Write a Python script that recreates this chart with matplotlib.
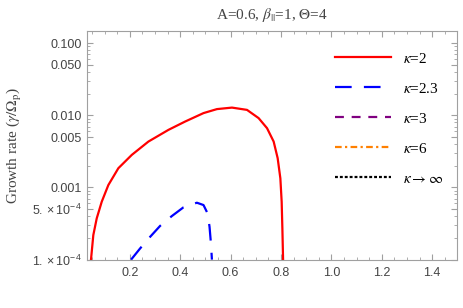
import numpy as np
import matplotlib.pyplot as plt
from matplotlib.ticker import FixedLocator, FixedFormatter, MultipleLocator

# growth rate curves (kappa = 2 and kappa = 2.3)
k2_x = [0.0457, 0.0549, 0.0684, 0.0883, 0.1145, 0.1543, 0.2076, 0.2736, 0.3531,
        0.4195, 0.4922, 0.5455, 0.6052, 0.6648, 0.7109, 0.7443, 0.7706, 0.7865,
        0.7972, 0.8024, 0.8052, 0.808]
k2_y = [1e-4, 2.19e-4, 3.73e-4, 6.35e-4, 1.08e-3, 1.85e-3, 2.83e-3, 4.33e-3, 6.29e-3,
        8.21e-3, 0.01074, 0.0122, 0.0128, 0.0119, 9.15e-3, 6.64e-3, 4.33e-3, 2.55e-3,
        1.34e-3, 6.35e-4, 2.71e-4, 1e-4]

k23_x = [0.2048, 0.2406, 0.2803, 0.3201, 0.3666, 0.4127, 0.466, 0.4922, 0.5082,
         0.5161, 0.5217, 0.5256]
k23_y = [1e-4, 1.43e-4, 2.07e-4, 2.94e-4, 4.02e-4, 5.31e-4, 6.15e-4, 5.71e-4, 4.39e-4,
         2.86e-4, 1.68e-4, 1e-4]

# no unstable range above 1e-4 for these
k3_x, k3_y = [], []
k6_x, k6_y = [], []
kinf_x, kinf_y = [], []

ytick_vals = [1e-4, 5e-4, 0.001, 0.005, 0.01, 0.05, 0.1]
ytick_labels = [r'$1.\times10^{-4}$', r'$5.\times10^{-4}$', '0.001', '0.005',
                '0.010', '0.050', '0.100']

plt.rcParams['mathtext.fontset'] = 'custom'
plt.rcParams['mathtext.rm'] = 'Liberation Sans'
plt.rcParams['mathtext.it'] = 'Liberation Sans:italic'

fig = plt.figure(figsize=(4.63, 3.08), dpi=100)
ax = fig.add_axes([0.188, 0.157, 0.8, 0.742])

serif = 'Liberation Serif'
lw = 1.6
ax.plot(k2_x, k2_y, color='#ff0000', lw=lw, label=r'$\kappa$=2')
ax.plot(k23_x, k23_y, color='#0000ff', lw=lw, dashes=(7.5, 5.5), label=r'$\kappa$=2.3')
ax.plot(k3_x, k3_y, color='#800080', lw=lw, dashes=(4, 3.5), label=r'$\kappa$=3')
ax.plot(k6_x, k6_y, color='#ff8000', lw=lw, dashes=(3, 1.5, 1, 1.5), label=r'$\kappa$=6')
ax.plot(kinf_x, kinf_y, color='black', lw=lw, dashes=(1.3, 0.9), label=r'$\kappa\rightarrow\infty$')

ax.set_yscale('log')
ax.set_xlim(0.03, 1.5)
ax.set_ylim(1e-4, 0.147)

ax.xaxis.set_major_locator(FixedLocator([0.2, 0.4, 0.6, 0.8, 1.0, 1.2, 1.4]))
ax.xaxis.set_minor_locator(MultipleLocator(0.05))
ax.yaxis.set_major_locator(FixedLocator(ytick_vals))
ax.yaxis.set_major_formatter(FixedFormatter(ytick_labels))

for s in ax.spines.values():
    s.set_color('#a0a0a0')
ax.tick_params(which='both', direction='in', top=True, right=True,
               color='#a0a0a0', labelcolor='#444444', labelsize=9)
ax.tick_params(which='major', length=4)
ax.tick_params(which='minor', length=2)
for lab in ax.get_xticklabels() + ax.get_yticklabels():
    lab.set_fontfamily('Liberation Sans')
ax.tick_params(axis='x', pad=5)

t = ax.set_title(r'A=0.6, $\beta_{||}$=1, $\Theta$=4', fontfamily=serif,
                 fontsize=11, color='#444444', pad=9)
t.set_math_fontfamily('stix')
yl = ax.set_ylabel(r'Growth rate ($\gamma/\Omega_{\rm p}$)', fontfamily=serif,
                   fontsize=11, color='#444444', labelpad=6)
yl.set_math_fontfamily('stix')

leg = ax.legend(loc='upper right', bbox_to_anchor=(1.0, 0.97), frameon=False,
                handlelength=3.7, labelspacing=1.05, prop={'family': serif, 'size': 11})
for txt in leg.get_texts():
    txt.set_math_fontfamily('stix')

fig.savefig('out.png', dpi=100)
